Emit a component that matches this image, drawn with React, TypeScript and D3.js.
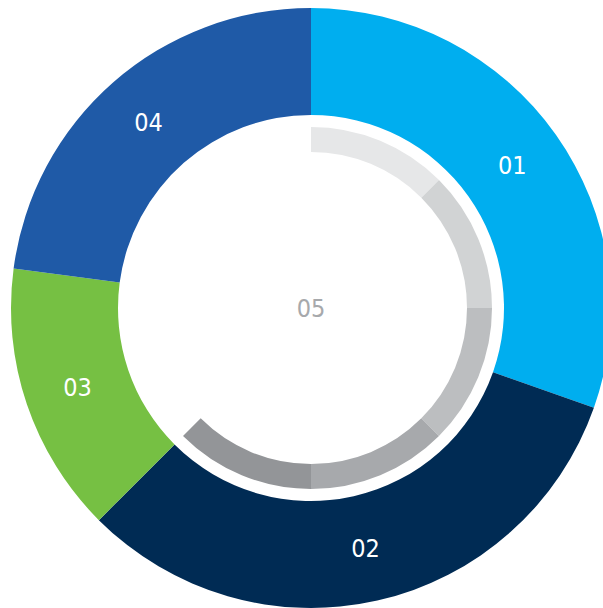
import React from "react";
import * as d3 from "d3";

const categories = ["01", "02", "03", "04"];
const values = [30.4, 32.1, 14.6, 22.9];
const colors = ["#00aeef", "#002b54", "#76c043", "#1f5aa7"];

const progressSegments = ["a", "b", "c", "d", "e"];
const progressValues = [45, 45, 45, 45, 45];
const progressColors = ["#e6e7e8", "#d1d3d4", "#bcbec0", "#a7a9ac", "#939598"];
const progressTotal = 360;

const centerLabel = "05";

const W = 603;
const H = 608;
const cx = 311;
const cy = 308;
const outerR = 300;
const innerR = 193;
const ringOuter = 181;
const ringInner = 156;

export default function App() {
  const pie = d3.pie<number>().sort(null).value((d) => d);
  const arcs = pie(values);
  const arcGen = d3.arc<d3.PieArcDatum<number>>().innerRadius(innerR).outerRadius(outerR);

  const deg = d3.scaleLinear().domain([0, progressTotal]).range([0, 2 * Math.PI]);
  let acc = 0;
  const ring = progressValues.map((v, i) => {
    const s = deg(acc);
    acc += v;
    const e = deg(acc);
    return { key: progressSegments[i], s, e, color: progressColors[i] };
  });
  const ringArc = d3.arc<any>().innerRadius(ringInner).outerRadius(ringOuter);

  const font = "'DejaVu Sans Condensed', 'DejaVu Sans', Verdana, sans-serif";

  return (
    <svg width={W} height={H} style={{ position: "absolute", left: 0, top: 0 }}>
      <rect width={W} height={H} fill="#ffffff" />
      <g transform={`translate(${cx},${cy})`}>
        {arcs.map((a, i) => (
          <path key={categories[i]} d={arcGen(a) || ""} fill={colors[i]} />
        ))}
        {ring.map((r) => (
          <path key={r.key} d={ringArc({ startAngle: r.s, endAngle: r.e }) || ""} fill={r.color} />
        ))}
        {arcs.map((a, i) => {
          const [x, y] = arcGen.centroid(a);
          return (
            <text
              key={"t" + categories[i]}
              x={x}
              y={y}
              textAnchor="middle"
              dominantBaseline="central"
              fill="#ffffff"
              fontFamily={font}
              fontStretch="condensed"
              fontSize={25}
            >
              {categories[i]}
            </text>
          );
        })}
        <text
          x={0}
          y={0}
          textAnchor="middle"
          dominantBaseline="central"
          fill="#a7a9ac"
          fontFamily={font}
          fontStretch="condensed"
          fontSize={25}
        >
          {centerLabel}
        </text>
      </g>
    </svg>
  );
}
